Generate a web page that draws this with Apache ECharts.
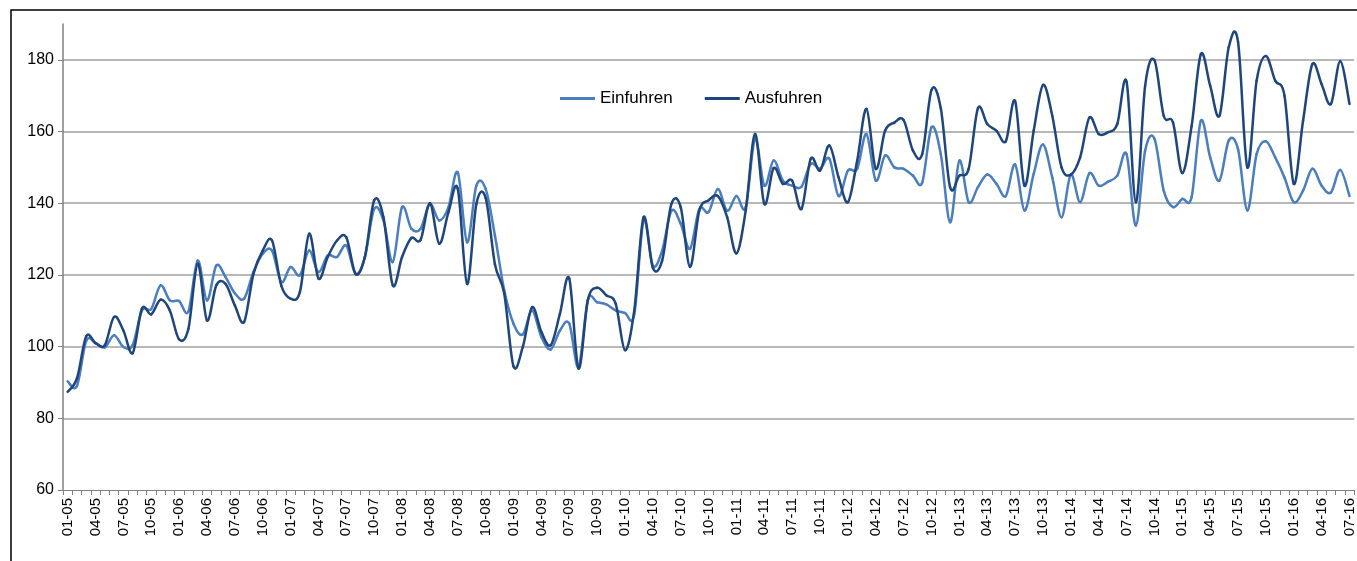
<!DOCTYPE html>
<html>
<head>
<meta charset="utf-8">
<script src="https://cdn.jsdelivr.net/npm/echarts@6/dist/echarts.min.js"></script>
<style>
  html, body { margin: 0; padding: 0; background: #fff; }
  #chart { width: 1357px; height: 561px; }
</style>
</head>
<body>
<div id="chart"></div>
<script>
// Monatswerte Jan 2005 bis Jul 2016
const years = ['05', '06', '07', '08', '09', '10', '11', '12', '13', '14', '15', '16'];
const months = ['01', '02', '03', '04', '05', '06', '07', '08', '09', '10', '11', '12'];
const categories = [];
years.forEach(function (y) {
    months.forEach(function (m) {
        if (y === '16' && +m > 7) return;
        categories.push(m + '-' + y);
    });
});

const einfuhren = [
    90.3, 89.0, 101.6, 101.0, 99.8, 103.2, 99.9, 100.4, 110.1, 110.5, 117.1, 112.9,
    112.7, 109.8, 124.0, 112.9, 122.6, 119.4, 114.9, 113.4, 120.8, 125.9, 126.8, 118.0,
    122.2, 119.9, 126.8, 120.8, 125.4, 125.0, 128.2, 120.3, 125.0, 138.4, 135.2, 123.6,
    138.9, 132.9, 132.9, 139.8, 135.2, 138.9, 148.6, 129.1, 144.9, 144.0, 131.0, 115.7,
    106.4, 103.4, 110.1, 102.7, 99.2, 104.5, 106.4, 94.3, 112.9, 112.4, 111.8, 110.1,
    109.4, 109.0, 135.2, 122.6, 126.8, 137.9, 134.3, 127.3, 138.4, 137.5, 144.0, 137.9,
    142.0, 138.9, 158.0, 144.9, 151.9, 146.3, 144.9, 144.6, 151.0, 149.6, 152.4, 142.0,
    149.1, 149.6, 159.3, 146.3, 153.3, 150.0, 149.6, 147.7, 145.8, 161.2, 153.7, 134.7,
    151.9, 140.3, 144.5, 148.0, 145.4, 142.0, 150.8, 138.0, 148.2, 156.4, 147.2, 136.1,
    148.0, 140.3, 148.4, 144.9, 146.0, 147.7, 153.7, 133.8, 154.7, 158.0, 143.5, 138.9,
    141.2, 141.7, 163.0, 152.8, 146.3, 157.5, 155.1, 138.0, 153.7, 157.3, 152.8, 147.2,
    140.3, 143.5, 149.6, 144.9, 143.0, 149.3, 142.0
];

const ausfuhren = [
    87.4, 91.1, 102.9, 101.0, 100.4, 108.3, 104.5, 98.2, 110.6, 109.0, 113.1, 110.1,
    102.0, 105.0, 123.1, 107.3, 117.1, 117.5, 111.5, 106.9, 120.3, 126.8, 129.6, 117.0,
    113.4, 115.2, 131.5, 119.0, 125.0, 129.6, 130.5, 120.3, 125.0, 140.8, 136.1, 117.1,
    125.0, 130.3, 129.8, 140.0, 128.7, 137.5, 144.0, 117.5, 139.8, 141.5, 123.0, 114.8,
    94.5, 99.9, 111.0, 104.1, 100.4, 109.2, 119.0, 93.9, 112.9, 116.4, 114.3, 112.0,
    99.0, 110.1, 136.1, 122.0, 124.0, 139.8, 138.9, 122.2, 137.9, 140.8, 142.0, 136.1,
    126.0, 138.0, 159.3, 139.8, 149.8, 145.4, 146.3, 138.4, 152.4, 149.1, 156.1, 147.2,
    140.3, 151.9, 166.3, 149.6, 160.2, 162.5, 163.2, 154.7, 153.7, 171.6, 166.5, 144.5,
    147.7, 149.6, 166.5, 162.1, 160.2, 157.3, 168.5, 144.9, 160.2, 173.0, 164.4, 150.0,
    148.0, 152.8, 163.9, 159.3, 159.8, 162.1, 173.9, 140.3, 172.8, 179.9, 164.4, 162.5,
    148.4, 161.5, 181.6, 172.8, 164.4, 183.5, 185.0, 150.0, 174.2, 181.1, 174.2, 170.0,
    145.4, 163.0, 178.8, 173.2, 167.7, 179.6, 167.7
];

const yMin = 60, yMax = 190, yStep = 20;
const fontName = 'Liberation Sans, Arial, sans-serif';

// geglaettete Linie wie in Excel (Catmull-Rom, Kontrollpunkte /6)
function smoothSeries(name, values, color) {
    const n = values.length;
    return {
        name: name,
        type: 'custom',
        data: values.map(function (v, i) { return [i, v]; }),
        encode: { x: 0, y: 1 },
        itemStyle: { color: color },
        renderItem: function (params, api) {
            const i = params.dataIndex;
            if (i >= n - 1) return null;
            const pt = function (k) {
                k = Math.max(0, Math.min(n - 1, k));
                return api.coord([k, values[k]]);
            };
            const p0 = pt(i - 1), p1 = pt(i), p2 = pt(i + 1), p3 = pt(i + 2);
            return {
                type: 'bezierCurve',
                shape: {
                    x1: p1[0], y1: p1[1],
                    x2: p2[0], y2: p2[1],
                    cpx1: p1[0] + (p2[0] - p0[0]) / 6,
                    cpy1: p1[1] + (p2[1] - p0[1]) / 6,
                    cpx2: p2[0] - (p3[0] - p1[0]) / 6,
                    cpy2: p2[1] - (p3[1] - p1[1]) / 6
                },
                style: { stroke: color, lineWidth: 2.5, fill: null, lineCap: 'round' }
            };
        }
    };
}

const myChart = echarts.init(document.getElementById('chart'));

const option = {
    animation: false,
    backgroundColor: '#fff',
    textStyle: { fontFamily: fontName },
    // Rahmen um die Grafik
    graphic: [{
        type: 'rect',
        shape: { x: 11, y: 10, width: 1420, height: 620 },
        style: { fill: 'none', stroke: '#000', lineWidth: 1.5 },
        silent: true
    }],
    legend: {
        left: 555,
        top: 85,
        itemWidth: 35,
        itemHeight: 3,
        itemGap: 32,
        icon: 'rect',
        textStyle: { fontSize: 17, color: '#000', fontFamily: fontName },
        data: ['Einfuhren', 'Ausfuhren']
    },
    grid: {
        left: 63,
        right: 2,
        top: 24,
        bottom: 71,
        containLabel: false
    },
    xAxis: {
        type: 'category',
        data: categories,
        boundaryGap: true,
        axisLine: { show: true, lineStyle: { color: '#808080', width: 1 } },
        axisTick: {
            show: true,
            interval: 0,
            length: 5,
            lineStyle: { color: '#808080' }
        },
        axisLabel: {
            interval: 2,
            rotate: 90,
            margin: 8,
            fontSize: 15,
            color: '#000',
            fontFamily: fontName
        },
        splitLine: { show: false }
    },
    yAxis: {
        type: 'value',
        min: yMin,
        max: yMax,
        interval: yStep,
        axisLine: { show: true, lineStyle: { color: '#808080', width: 1.5 } },
        axisTick: { show: true, length: 5, lineStyle: { color: '#808080' } },
        axisLabel: {
            fontSize: 16,
            color: '#000',
            margin: 9,
            showMaxLabel: false,
            fontFamily: fontName
        },
        splitLine: {
            show: true,
            showMinLine: false,
            showMaxLine: false,
            lineStyle: { color: '#a0a0a0', width: 1.5 }
        }
    },
    series: [
        smoothSeries('Einfuhren', einfuhren, '#4a7ebf'),
        smoothSeries('Ausfuhren', ausfuhren, '#1f467c')
    ]
};

myChart.setOption(option);
</script>
</body>
</html>
